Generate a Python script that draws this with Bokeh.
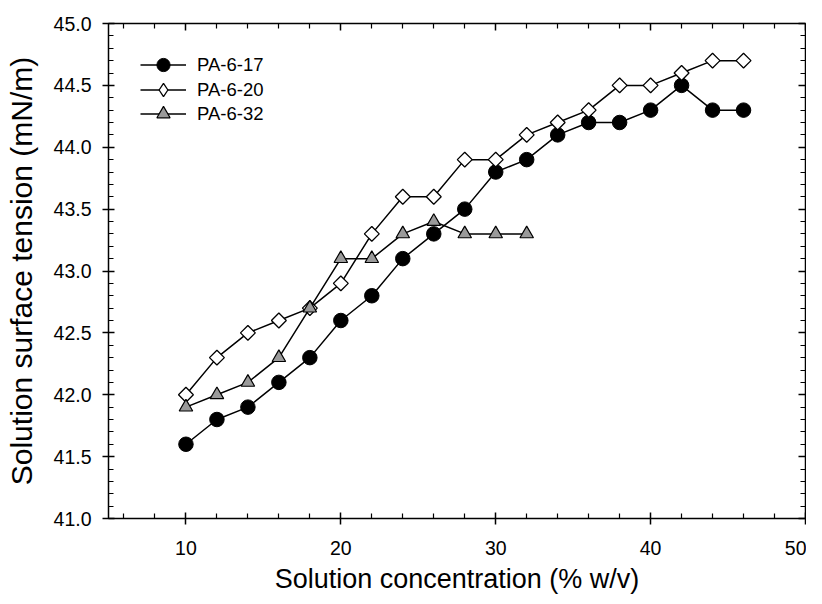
import numpy as np
from bokeh.plotting import figure
from bokeh.models import (LinearAxis, FixedTicker, NumeralTickFormatter, Legend,
                          LegendItem, Range1d, ColumnDataSource)
from bokeh.embed import file_html
from bokeh.resources import INLINE

# ---- data ----
conc_17 = [10, 12, 14, 16, 18, 20, 22, 24, 26, 28, 30, 32, 34, 36, 38, 40, 42, 44, 46]
tension_17 = [41.6, 41.8, 41.9, 42.1, 42.3, 42.6, 42.8, 43.1, 43.3, 43.5, 43.8, 43.9,
              44.1, 44.2, 44.2, 44.3, 44.5, 44.3, 44.3]
conc_20 = [10, 12, 14, 16, 18, 20, 22, 24, 26, 28, 30, 32, 34, 36, 38, 40, 42, 44, 46]
tension_20 = [42.0, 42.3, 42.5, 42.6, 42.7, 42.9, 43.3, 43.6, 43.6, 43.9, 43.9, 44.1,
              44.2, 44.3, 44.5, 44.5, 44.6, 44.7, 44.7]
conc_32 = [10, 12, 14, 16, 18, 20, 22, 24, 26, 28, 30, 32]
tension_32 = [41.9, 42.0, 42.1, 42.3, 42.7, 43.1, 43.1, 43.3, 43.4, 43.3, 43.3, 43.3]

series_names = ["PA-6-17", "PA-6-20", "PA-6-32"]

x_major = [10, 20, 30, 40, 50]
x_minor = [6, 8, 12, 14, 16, 18, 22, 24, 26, 28, 32, 34, 36, 38, 42, 44, 46, 48]
y_major = [41.0, 41.5, 42.0, 42.5, 43.0, 43.5, 44.0, 44.5, 45.0]
y_minor = [41.1, 41.2, 41.3, 41.4, 41.6, 41.7, 41.8, 41.9, 42.1, 42.2, 42.3, 42.4,
           42.6, 42.7, 42.8, 42.9, 43.1, 43.2, 43.3, 43.4, 43.6, 43.7, 43.8, 43.9,
           44.1, 44.2, 44.3, 44.4, 44.6, 44.7, 44.8, 44.9]

FONT = "Liberation Sans"

p = figure(width=806, height=596, output_backend="svg", toolbar_location=None,
           x_range=Range1d(5, 50), y_range=Range1d(41, 45),
           min_border_left=108, min_border_right=1, min_border_top=23,
           min_border_bottom=77, x_axis_location=None, y_axis_location=None)
p.grid.visible = False
p.outline_line_color = None
p.background_fill_color = "white"
p.border_fill_color = "white"

def style_axis(ax, labels=True):
    ax.axis_line_color = "black"
    ax.axis_line_width = 1.5
    ax.major_tick_line_color = "black"
    ax.major_tick_line_width = 1.5
    ax.minor_tick_line_color = "black"
    ax.minor_tick_line_width = 1.2
    ax.major_tick_in = 6
    ax.major_tick_out = 6
    ax.minor_tick_in = 5
    ax.minor_tick_out = 0
    ax.major_label_text_font = FONT
    ax.major_label_text_font_size = "19.5px"
    ax.major_label_text_color = "black"
    ax.axis_label_text_font = FONT
    ax.axis_label_text_font_style = "normal"
    ax.axis_label_text_color = "black"
    if not labels:
        ax.major_label_text_font_size = "0px"
        ax.major_label_text_color = None
        ax.major_tick_out = 0
        ax.major_tick_in = 7
        ax.major_label_standoff = 0

xb = LinearAxis(ticker=FixedTicker(ticks=x_major, minor_ticks=x_minor),
                axis_label="Solution concentration (% w/v)")
style_axis(xb)
xb.axis_label_text_font_size = "27px"
xb.major_label_standoff = 16
xb.axis_label_standoff = 6
p.add_layout(xb, "below")

xa = LinearAxis(ticker=FixedTicker(ticks=x_major, minor_ticks=x_minor))
style_axis(xa, labels=False)
p.add_layout(xa, "above")

yl = LinearAxis(ticker=FixedTicker(ticks=y_major, minor_ticks=y_minor),
                axis_label="Solution surface tension (mN/m)",
                formatter=NumeralTickFormatter(format="0.0"))
style_axis(yl)
yl.axis_label_text_font_size = "30px"
yl.major_label_standoff = 11
yl.axis_label_standoff = 13
p.add_layout(yl, "left")

yr = LinearAxis(ticker=FixedTicker(ticks=y_major, minor_ticks=y_minor))
style_axis(yr, labels=False)
p.add_layout(yr, "right")

src_20 = ColumnDataSource(data=dict(x=conc_20, y=tension_20))

l1 = p.line(conc_17, tension_17, line_color="black", line_width=1.5)
s1 = p.scatter(conc_17, tension_17, marker="circle", size=14.5, fill_color="black",
               line_color="black")
l2 = p.line("x", "y", source=src_20, line_color="black", line_width=1.5)
# diamond glyph used for the legend; it is drawn first and fully covered by the
# rotated squares that follow
d2 = p.scatter("x", "y", source=src_20, marker="diamond", size=13,
               fill_color="white", line_color="black", line_width=1.3)
s2 = p.scatter("x", "y", source=src_20, marker="square", angle=np.pi / 4, size=10.5,
               fill_color="white", line_color="black", line_width=1.3)
l3 = p.line(conc_32, tension_32, line_color="black", line_width=1.5)
s3 = p.scatter(conc_32, tension_32, marker="triangle", size=13.5, fill_color="#9a9a9a",
               line_color="black", line_width=1.2)

legend_renderers = [[l1, s1], [l2, d2], [l3, s3]]
legend_bottoms = [437, 412, 388]
for name, rends, vy in zip(series_names, legend_renderers, legend_bottoms):
    lg = Legend(items=[LegendItem(label=name, renderers=rends, index=0)],
                location=(32, vy))
    lg.background_fill_alpha = 0
    lg.border_line_color = None
    lg.margin = 0
    lg.padding = 0
    lg.spacing = 0
    lg.glyph_width = 46
    lg.glyph_height = 33
    lg.label_height = 25
    lg.label_standoff = 11
    lg.label_text_font = FONT
    lg.label_text_font_size = "18.5px"
    lg.label_text_color = "black"
    p.add_layout(lg, "center")

open("out.html", "w").write(file_html(p, INLINE))
